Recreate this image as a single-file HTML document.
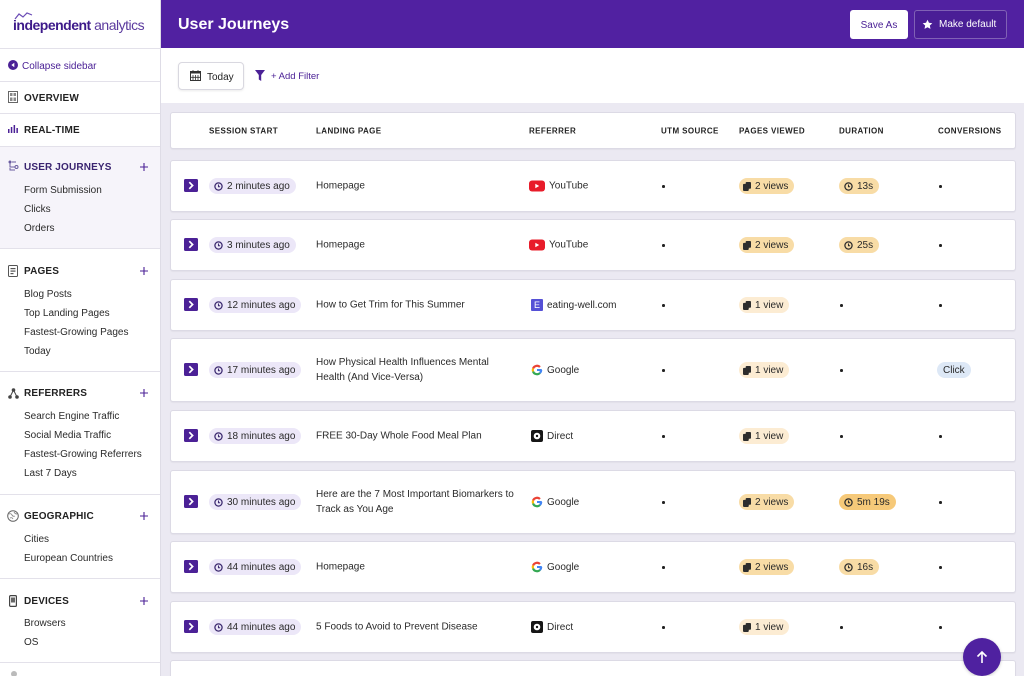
<!DOCTYPE html>
<html><head><meta charset="utf-8">
<style>
*{box-sizing:border-box}
html,body{margin:0;padding:0;width:1024px;height:676px;overflow:hidden;background:#ebe9f2}
#root{position:relative;width:1024px;height:676px;overflow:hidden;background:#ebe9f2;font-family:"Liberation Sans",sans-serif;color:#2a2a2a}
.a{position:absolute}
#side{left:0;top:0;width:161px;height:676px;background:#fff;border-right:1px solid #dedce6}
.hl{position:absolute;left:0;width:160px;height:1px;background:#e3e1ea}
.sh{position:absolute;left:24px;font-size:10px;font-weight:bold;letter-spacing:.15px;line-height:12px;color:#222}
.si{position:absolute;left:24px;font-size:10px;line-height:12px;color:#2a2a2a}
.ic{position:absolute;left:8px}
.plus{position:absolute;left:139px;width:10px;height:10px}
.card{position:absolute;left:170px;width:846px;background:#fff;border:1px solid #dcdae5;border-radius:3px;box-shadow:0 1px 1px rgba(0,0,0,.04)}
.th{position:absolute;top:50%;transform:translateY(-50%);font-size:8px;font-weight:bold;letter-spacing:.4px;color:#222}
.pill{position:absolute;top:50%;transform:translateY(-50%);height:16px;border-radius:8px;display:flex;align-items:center;gap:4px;font-size:10px;white-space:nowrap;padding:0 6px 0 5px;color:#2a2a2a}
.ses{left:38px;background:#ece7f8}
.pv{left:568px;background:#f8dca6;padding-left:4px}
.pv.l{background:#fcecd3}
.du{left:668px;background:#f8dca6}
.du.s{background:#f6c979}
.cl{left:766px;background:#dde8f6;padding:0 6px}
.dot{position:absolute;top:50%;width:2.5px;height:2.5px;margin-top:-1px;background:#222;border-radius:50%}
.exp{position:absolute;left:13px;top:50%;margin-top:-7px;width:14px;height:13px;background:#4b2196;border-radius:1.5px}
.ref{position:absolute;left:358px;top:50%;transform:translateY(-50%);display:flex;align-items:center;gap:4px;font-size:10px;white-space:nowrap}
.lp{position:absolute;left:145px;top:50%;transform:translateY(-50%);font-size:10px;line-height:15px;width:210px}
</style></head><body>
<div id="root">

<!-- Sidebar -->
<div id="side" class="a">
  <svg class="a" style="left:14px;top:12px" width="20" height="8" viewBox="0 0 20 8"><polyline points="1,7 5,2 9,5 13,1 18,3" fill="none" stroke="#6a4bb5" stroke-width="1.2"/></svg>
  <div class="a" style="left:13px;top:16px;font-size:14px;letter-spacing:-.5px;line-height:18px;white-space:nowrap"><span style="font-weight:bold;color:#3d1a8a">independent</span><span style="color:#5b3a9e"> analytics</span></div>
  <div class="hl" style="top:48px"></div>

  <svg class="ic" style="top:60px" width="10" height="10" viewBox="0 0 10 10"><circle cx="5" cy="5" r="5" fill="#4b2196"/><path d="M6.3 2.8 L3.4 5 L6.3 7.2Z" fill="#fff"/></svg>
  <div class="si" style="left:22px;top:61px;color:#4b2196">Collapse sidebar</div>
  <div class="hl" style="top:81px"></div>

  <svg class="ic" style="top:91px" width="10" height="12" viewBox="0 0 10 12"><rect x=".5" y=".5" width="9" height="11" fill="none" stroke="#666"/><rect x="2" y="2" width="2.5" height="3" fill="#888"/><rect x="5.5" y="2" width="2.5" height="3" fill="#888"/><rect x="2" y="6.5" width="2.5" height="3.5" fill="#888"/><rect x="5.5" y="6.5" width="2.5" height="3.5" fill="#888"/></svg>
  <div class="sh" style="top:93px">OVERVIEW</div>
  <div class="hl" style="top:113px"></div>

  <svg class="ic" style="top:125px" width="10" height="8" viewBox="0 0 10 8"><rect x="0" y="4" width="1.5" height="4" fill="#4b2196"/><rect x="2.8" y="2" width="1.5" height="6" fill="#4b2196"/><rect x="5.6" y="0" width="1.5" height="8" fill="#4b2196"/><rect x="8.4" y="3" width="1.5" height="5" fill="#4b2196"/></svg>
  <div class="sh" style="top:125px">REAL-TIME</div>
  <div class="hl" style="top:146px"></div>

  <div class="a" style="left:0;top:147px;width:160px;height:101px;background:#f6f4fa"></div>
  <svg class="ic" style="top:160px" width="11" height="12" viewBox="0 0 11 12"><circle cx="2" cy="2" r="1.5" fill="#6a5ca0"/><path d="M2 3.5 V7 H7" fill="none" stroke="#6a5ca0" stroke-width="1"/><circle cx="8.5" cy="7" r="1.5" fill="none" stroke="#6a5ca0"/><path d="M4 2 H8" stroke="#6a5ca0" stroke-width="1"/><path d="M2 8 V10 H7" fill="none" stroke="#6a5ca0"/></svg>
  <div class="sh" style="top:162px;color:#3a2470">USER JOURNEYS</div>
  <svg class="plus" style="top:162px" viewBox="0 0 10 10"><path d="M5 1V9M1 5H9" stroke="#4b2196" stroke-width="1.1"/></svg>
  <div class="si" style="top:185px">Form Submission</div>
  <div class="si" style="top:204px">Clicks</div>
  <div class="si" style="top:223px">Orders</div>
  <div class="hl" style="top:248px"></div>

  <svg class="ic" style="top:265px" width="10" height="12" viewBox="0 0 10 12"><rect x=".5" y=".5" width="9" height="11" rx="1" fill="none" stroke="#555"/><rect x="2.5" y="3" width="5" height="1.2" fill="#555"/><rect x="2.5" y="5.5" width="5" height="1.2" fill="#555"/><rect x="2.5" y="8" width="3" height="1.2" fill="#555"/></svg>
  <div class="sh" style="top:266px">PAGES</div>
  <svg class="plus" style="top:266px" viewBox="0 0 10 10"><path d="M5 1V9M1 5H9" stroke="#4b2196" stroke-width="1.1"/></svg>
  <div class="si" style="top:289px">Blog Posts</div>
  <div class="si" style="top:308px">Top Landing Pages</div>
  <div class="si" style="top:327px">Fastest-Growing Pages</div>
  <div class="si" style="top:346px">Today</div>
  <div class="hl" style="top:371px"></div>

  <svg class="ic" style="top:388px" width="11" height="11" viewBox="0 0 11 11"><circle cx="5.5" cy="2" r="1.8" fill="#444"/><circle cx="2" cy="9" r="1.8" fill="#444"/><circle cx="9" cy="9" r="1.8" fill="#444"/><path d="M5.5 2L2 9M5.5 2L9 9" stroke="#444" stroke-width="1"/></svg>
  <div class="sh" style="top:388px">REFERRERS</div>
  <svg class="plus" style="top:388px" viewBox="0 0 10 10"><path d="M5 1V9M1 5H9" stroke="#4b2196" stroke-width="1.1"/></svg>
  <div class="si" style="top:411px">Search Engine Traffic</div>
  <div class="si" style="top:430px">Social Media Traffic</div>
  <div class="si" style="top:449px">Fastest-Growing Referrers</div>
  <div class="si" style="top:468px">Last 7 Days</div>
  <div class="hl" style="top:494px"></div>

  <svg class="ic" style="top:510px;left:7px" width="12" height="12" viewBox="0 0 12 12"><circle cx="6" cy="6" r="5.3" fill="none" stroke="#666"/><path d="M2 4 Q4 3 5 5 T8 6 M3 8 Q5 7 6 9 M7 2 Q8 4 10 4" fill="none" stroke="#888" stroke-width=".9"/></svg>
  <div class="sh" style="top:511px">GEOGRAPHIC</div>
  <svg class="plus" style="top:511px" viewBox="0 0 10 10"><path d="M5 1V9M1 5H9" stroke="#4b2196" stroke-width="1.1"/></svg>
  <div class="si" style="top:534px">Cities</div>
  <div class="si" style="top:553px">European Countries</div>
  <div class="hl" style="top:578px"></div>

  <svg class="ic" style="top:595px;left:9px" width="8" height="12" viewBox="0 0 8 12"><rect x=".6" y=".6" width="6.8" height="10.8" rx="1" fill="none" stroke="#444" stroke-width="1.2"/><rect x="2" y="2.5" width="4" height="5" fill="#666"/></svg>
  <div class="sh" style="top:596px">DEVICES</div>
  <svg class="plus" style="top:596px" viewBox="0 0 10 10"><path d="M5 1V9M1 5H9" stroke="#4b2196" stroke-width="1.1"/></svg>
  <div class="si" style="top:618px">Browsers</div>
  <div class="si" style="top:637px">OS</div>
  <div class="hl" style="top:662px"></div>
  <svg class="ic" style="top:670px;left:9px" width="10" height="8" viewBox="0 0 10 8"><circle cx="5" cy="4" r="3" fill="#bbb"/></svg>
</div>

<!-- Header -->
<div class="a" style="left:161px;top:0;width:863px;height:48px;background:#5121a1"></div>
<div class="a" style="left:178px;top:15px;font-size:16px;font-weight:bold;color:#fff;line-height:20px">User Journeys</div>
<div class="a" style="left:850px;top:10px;width:58px;height:29px;background:#fff;border-radius:3px;font-size:10px;color:#4b2196;text-align:center;line-height:31px">Save As</div>
<div class="a" style="left:914px;top:10px;width:93px;height:29px;border:1px solid rgba(255,255,255,.3);border-radius:3px;background:#4a1e96"></div>
<svg class="a" style="left:922px;top:19px" width="11" height="11" viewBox="0 0 24 24"><path d="M12 1.5l3.2 6.8 7.3.9-5.4 5.1 1.4 7.3L12 18l-6.5 3.6 1.4-7.3L1.5 9.2l7.3-.9z" fill="#fff"/></svg>
<div class="a" style="left:939px;top:19px;font-size:10px;color:#fff;line-height:12px">Make default</div>

<!-- Toolbar -->
<div class="a" style="left:161px;top:48px;width:863px;height:55px;background:#fff"></div>
<div class="a" style="left:178px;top:62px;width:66px;height:28px;background:#fff;border:1px solid #d9d8e0;border-radius:4px;box-shadow:0 1px 2px rgba(0,0,0,.08)"></div>
<svg class="a" style="left:190px;top:70px" width="11" height="11" viewBox="0 0 11 11"><rect x=".5" y="1.5" width="10" height="9" fill="none" stroke="#333"/><rect x=".5" y="1.5" width="10" height="2" fill="#333"/><path d="M3 0V2M8 0V2M3 5V10M5.5 5V10M8 5V10M1 7.3H10" stroke="#333" stroke-width=".8"/></svg>
<div class="a" style="left:207px;top:72px;font-size:10px;line-height:12px;color:#222">Today</div>
<svg class="a" style="left:255px;top:70px" width="10" height="11" viewBox="0 0 10 11"><path d="M0 0H10L6.2 5V11L3.8 9.5V5Z" fill="#4b2196"/></svg>
<div class="a" style="left:271px;top:71px;font-size:9.5px;line-height:12px;color:#4b2196">+ Add Filter</div>

<!-- Table header -->
<div class="card" style="top:112px;height:37px">
  <div class="th" style="left:38px">SESSION START</div>
  <div class="th" style="left:145px">LANDING PAGE</div>
  <div class="th" style="left:358px">REFERRER</div>
  <div class="th" style="left:490px">UTM SOURCE</div>
  <div class="th" style="left:568px">PAGES VIEWED</div>
  <div class="th" style="left:668px">DURATION</div>
  <div class="th" style="left:767px">CONVERSIONS</div>
</div>

<svg width="0" height="0" style="position:absolute">
  <defs>
    <symbol id="clk" viewBox="0 0 10 10"><circle cx="5" cy="5" r="4" fill="none" stroke="currentColor" stroke-width="1.4"/><path d="M5 2.8V5.3H6.8" fill="none" stroke="currentColor" stroke-width="1.2"/></symbol>
    <symbol id="doc" viewBox="0 0 9 10"><rect x="3" y="0" width="6" height="7.5" rx="1" fill="#2d2d2d"/><rect x="0" y="2" width="6.5" height="8" rx="1" fill="#2d2d2d"/></symbol>
    <symbol id="chev" viewBox="0 0 14 13"><path d="M5.3 3.2L8.6 6.5 5.3 9.8" fill="none" stroke="#fff" stroke-width="1.7"/></symbol>
    <symbol id="yt" viewBox="0 0 16 11"><rect width="16" height="11" rx="3" fill="#e81c2a"/><path d="M6.3 3.2V7.8L10.2 5.5Z" fill="#fff"/></symbol>
    <symbol id="gg" viewBox="0 0 12 12"><g fill="none" stroke-width="2.2"><path d="M8.97 3.03A4.2 4.2 0 0 0 2.05 4.56" stroke="#ea4335"/><path d="M2.05 4.56A4.2 4.2 0 0 0 2.05 7.44" stroke="#fbbc05"/><path d="M2.05 7.44A4.2 4.2 0 0 0 8.97 8.97" stroke="#34a853"/><path d="M8.97 8.97A4.2 4.2 0 0 0 10.2 6" stroke="#4285f4"/><path d="M6 6H10.8" stroke="#4285f4" stroke-width="2"/></g></symbol>
    <symbol id="dir" viewBox="0 0 12 12"><rect width="12" height="12" rx="2" fill="#161616"/><circle cx="6" cy="6" r="3.3" fill="#fff"/><circle cx="6" cy="6" r="1.2" fill="#161616"/></symbol>
  </defs>
</svg>

<!-- Row 1 -->
<div class="card" style="top:160px;height:52px">
  <div class="exp"><svg width="14" height="13"><use href="#chev"/></svg></div>
  <div class="pill ses"><svg width="9" height="9" style="color:#3c2a70"><use href="#clk"/></svg>2 minutes ago</div>
  <div class="lp">Homepage</div>
  <div class="ref"><svg width="16" height="11"><use href="#yt"/></svg>YouTube</div>
  <div class="dot" style="left:491px"></div>
  <div class="pill pv"><svg width="8" height="9"><use href="#doc"/></svg>2 views</div>
  <div class="pill du"><svg width="9" height="9" style="color:#2d2d2d"><use href="#clk"/></svg>13s</div>
  <div class="dot" style="left:768px"></div>
</div>

<!-- Row 2 -->
<div class="card" style="top:219px;height:52px">
  <div class="exp"><svg width="14" height="13"><use href="#chev"/></svg></div>
  <div class="pill ses"><svg width="9" height="9" style="color:#3c2a70"><use href="#clk"/></svg>3 minutes ago</div>
  <div class="lp">Homepage</div>
  <div class="ref"><svg width="16" height="11"><use href="#yt"/></svg>YouTube</div>
  <div class="dot" style="left:491px"></div>
  <div class="pill pv"><svg width="8" height="9"><use href="#doc"/></svg>2 views</div>
  <div class="pill du"><svg width="9" height="9" style="color:#2d2d2d"><use href="#clk"/></svg>25s</div>
  <div class="dot" style="left:768px"></div>
</div>

<!-- Row 3 -->
<div class="card" style="top:279px;height:52px">
  <div class="exp"><svg width="14" height="13"><use href="#chev"/></svg></div>
  <div class="pill ses"><svg width="9" height="9" style="color:#3c2a70"><use href="#clk"/></svg>12 minutes ago</div>
  <div class="lp">How to Get Trim for This Summer</div>
  <div class="ref" style="left:360px"><span style="display:inline-block;width:12px;height:12px;background:#5550d6;color:#fff;font-size:9px;line-height:12px;text-align:center;border-radius:1px">E</span>eating-well.com</div>
  <div class="dot" style="left:491px"></div>
  <div class="pill pv l"><svg width="8" height="9"><use href="#doc"/></svg>1 view</div>
  <div class="dot" style="left:669px"></div>
  <div class="dot" style="left:768px"></div>
</div>

<!-- Row 4 -->
<div class="card" style="top:338px;height:64px">
  <div class="exp"><svg width="14" height="13"><use href="#chev"/></svg></div>
  <div class="pill ses"><svg width="9" height="9" style="color:#3c2a70"><use href="#clk"/></svg>17 minutes ago</div>
  <div class="lp">How Physical Health Influences Mental<br>Health (And Vice-Versa)</div>
  <div class="ref" style="left:360px"><svg width="12" height="12"><use href="#gg"/></svg>Google</div>
  <div class="dot" style="left:491px"></div>
  <div class="pill pv l"><svg width="8" height="9"><use href="#doc"/></svg>1 view</div>
  <div class="dot" style="left:669px"></div>
  <div class="pill cl">Click</div>
</div>

<!-- Row 5 -->
<div class="card" style="top:410px;height:52px">
  <div class="exp"><svg width="14" height="13"><use href="#chev"/></svg></div>
  <div class="pill ses"><svg width="9" height="9" style="color:#3c2a70"><use href="#clk"/></svg>18 minutes ago</div>
  <div class="lp">FREE 30-Day Whole Food Meal Plan</div>
  <div class="ref" style="left:360px"><svg width="12" height="12"><use href="#dir"/></svg>Direct</div>
  <div class="dot" style="left:491px"></div>
  <div class="pill pv l"><svg width="8" height="9"><use href="#doc"/></svg>1 view</div>
  <div class="dot" style="left:669px"></div>
  <div class="dot" style="left:768px"></div>
</div>

<!-- Row 6 -->
<div class="card" style="top:470px;height:64px">
  <div class="exp"><svg width="14" height="13"><use href="#chev"/></svg></div>
  <div class="pill ses"><svg width="9" height="9" style="color:#3c2a70"><use href="#clk"/></svg>30 minutes ago</div>
  <div class="lp">Here are the 7 Most Important Biomarkers to<br>Track as You Age</div>
  <div class="ref" style="left:360px"><svg width="12" height="12"><use href="#gg"/></svg>Google</div>
  <div class="dot" style="left:491px"></div>
  <div class="pill pv"><svg width="8" height="9"><use href="#doc"/></svg>2 views</div>
  <div class="pill du s"><svg width="9" height="9" style="color:#2d2d2d"><use href="#clk"/></svg>5m 19s</div>
  <div class="dot" style="left:768px"></div>
</div>

<!-- Row 7 -->
<div class="card" style="top:541px;height:52px">
  <div class="exp"><svg width="14" height="13"><use href="#chev"/></svg></div>
  <div class="pill ses"><svg width="9" height="9" style="color:#3c2a70"><use href="#clk"/></svg>44 minutes ago</div>
  <div class="lp">Homepage</div>
  <div class="ref" style="left:360px"><svg width="12" height="12"><use href="#gg"/></svg>Google</div>
  <div class="dot" style="left:491px"></div>
  <div class="pill pv"><svg width="8" height="9"><use href="#doc"/></svg>2 views</div>
  <div class="pill du"><svg width="9" height="9" style="color:#2d2d2d"><use href="#clk"/></svg>16s</div>
  <div class="dot" style="left:768px"></div>
</div>

<!-- Row 8 -->
<div class="card" style="top:601px;height:52px">
  <div class="exp"><svg width="14" height="13"><use href="#chev"/></svg></div>
  <div class="pill ses"><svg width="9" height="9" style="color:#3c2a70"><use href="#clk"/></svg>44 minutes ago</div>
  <div class="lp">5 Foods to Avoid to Prevent Disease</div>
  <div class="ref" style="left:360px"><svg width="12" height="12"><use href="#dir"/></svg>Direct</div>
  <div class="dot" style="left:491px"></div>
  <div class="pill pv l"><svg width="8" height="9"><use href="#doc"/></svg>1 view</div>
  <div class="dot" style="left:669px"></div>
  <div class="dot" style="left:768px"></div>
</div>

<!-- Row 9 partial -->
<div class="card" style="top:660px;height:40px"></div>

<!-- Scroll to top -->
<div class="a" style="left:963px;top:638px;width:38px;height:38px;border-radius:50%;background:#4f21a0;box-shadow:0 1px 3px rgba(0,0,0,.2)"></div>
<svg class="a" style="left:976px;top:650px" width="12" height="14" viewBox="0 0 12 14"><path d="M6 13V2M1.5 6.5L6 2 10.5 6.5" fill="none" stroke="#fff" stroke-width="1.6"/></svg>

</div>
</body></html>
